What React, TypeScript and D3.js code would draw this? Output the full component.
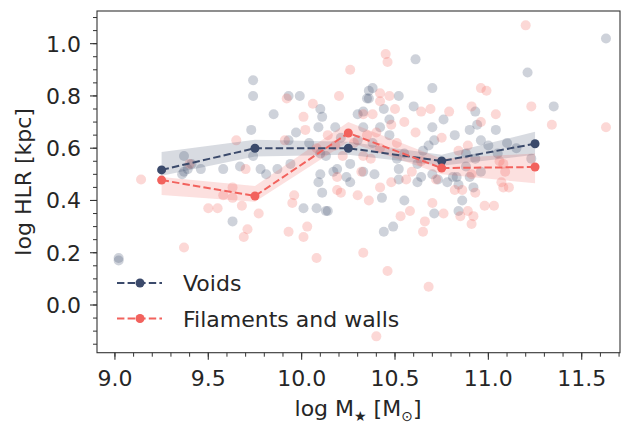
import React from "react";
import * as d3 from "d3";

// ---- data ----
const voidMass = [9.74, 9.74, 9.93, 9.99, 9.85, 10.10, 10.11, 10.09, 9.97, 9.73, 10.18, 10.30, 10.35, 10.36, 9.93, 10.04, 10.10, 10.13, 9.37, 9.46, 9.37, 9.58, 9.67, 9.78, 9.81, 9.87, 9.94, 10.10, 10.19, 10.26, 10.33, 11.63, 10.61, 11.21, 10.70, 10.38, 10.36, 10.52, 10.60, 10.44, 10.33, 10.93, 11.35, 10.76, 10.47, 10.42, 10.94, 10.90, 11.04, 10.70, 10.33, 10.82, 10.47, 10.71, 10.68, 10.65, 10.96, 11.00, 10.38, 10.88, 10.51, 10.93, 11.23, 10.39, 10.52, 10.88, 10.96, 10.81, 10.24, 10.26, 10.43, 10.52, 10.55, 10.62, 10.64, 10.71, 10.49, 10.44, 10.70, 10.73, 10.78, 10.83, 10.84, 10.86, 10.92, 10.90, 10.84, 9.41, 9.74, 9.63, 9.02, 9.02, 10.01, 10.09, 10.11, 10.08, 10.13, 10.14, 10.17, 9.36, 9.39, 10.21, 10.30, 10.55, 10.62, 11.05, 11.10, 11.15];
const voidHLR = [0.86, 0.80, 0.80, 0.80, 0.73, 0.75, 0.72, 0.68, 0.66, 0.67, 0.68, 0.73, 0.79, 0.82, 0.63, 0.62, 0.58, 0.57, 0.57, 0.52, 0.51, 0.52, 0.53, 0.52, 0.50, 0.52, 0.54, 0.50, 0.52, 0.54, 0.51, 1.02, 0.94, 0.89, 0.83, 0.83, 0.79, 0.80, 0.76, 0.75, 0.74, 0.74, 0.76, 0.71, 0.71, 0.68, 0.69, 0.67, 0.67, 0.68, 0.68, 0.65, 0.65, 0.63, 0.61, 0.59, 0.63, 0.61, 0.62, 0.58, 0.56, 0.56, 0.56, 0.50, 0.52, 0.53, 0.51, 0.49, 0.49, 0.47, 0.41, 0.48, 0.40, 0.47, 0.49, 0.35, 0.30, 0.28, 0.50, 0.48, 0.47, 0.49, 0.46, 0.40, 0.45, 0.49, 0.36, 0.54, 0.57, 0.32, 0.17, 0.18, 0.37, 0.47, 0.43, 0.37, 0.36, 0.36, 0.51, 0.50, 0.52, 0.64, 0.63, 0.58, 0.54, 0.58, 0.62, 0.60];

const filMass = [10.26, 9.92, 10.20, 10.06, 10.01, 10.02, 9.65, 9.91, 10.14, 10.33, 9.40, 9.70, 9.14, 10.18, 11.20, 10.45, 10.46, 10.96, 10.99, 10.42, 10.47, 10.42, 10.69, 10.64, 10.50, 10.79, 10.38, 10.91, 11.04, 11.23, 11.34, 11.63, 10.55, 10.48, 10.96, 10.61, 10.75, 10.35, 10.40, 10.89, 10.51, 10.42, 10.84, 10.33, 10.37, 10.64, 11.06, 11.08, 10.32, 10.59, 10.91, 11.09, 10.21, 10.30, 10.36, 10.42, 10.48, 10.56, 10.58, 10.53, 10.70, 10.76, 10.66, 10.65, 10.33, 10.46, 10.68, 10.72, 10.82, 10.86, 10.93, 10.89, 10.92, 10.85, 10.91, 10.98, 11.03, 11.07, 11.08, 11.11, 9.58, 9.63, 9.63, 9.68, 9.50, 9.55, 9.77, 9.71, 9.69, 9.37, 9.93, 9.96, 9.95, 10.03, 10.01, 10.08, 10.19, 10.19, 10.40, 10.08, 10.22, 10.28];
const filHLR = [0.90, 0.79, 0.80, 0.77, 0.72, 0.67, 0.63, 0.63, 0.65, 0.73, 0.54, 0.52, 0.48, 0.61, 1.07, 0.96, 0.93, 0.83, 0.82, 0.81, 0.80, 0.78, 0.75, 0.74, 0.75, 0.74, 0.73, 0.76, 0.73, 0.76, 0.69, 0.68, 0.70, 0.69, 0.70, 0.66, 0.64, 0.65, 0.66, 0.61, 0.62, 0.60, 0.59, 0.57, 0.56, 0.55, 0.55, 0.54, 0.51, 0.51, 0.50, 0.51, 0.43, 0.42, 0.40, 0.45, 0.47, 0.48, 0.36, 0.34, 0.39, 0.35, 0.32, 0.28, 0.20, 0.13, 0.07, 0.48, 0.44, 0.44, 0.43, 0.36, 0.34, 0.34, 0.31, 0.38, 0.38, 0.47, 0.45, 0.45, 0.42, 0.41, 0.45, 0.38, 0.37, 0.37, 0.35, 0.29, 0.26, 0.22, 0.28, 0.42, 0.39, 0.30, 0.26, 0.18, 0.49, 0.44, -0.12, 0.60, 0.57, 0.62];

const binCenters = [9.25, 9.75, 10.25, 10.75, 11.25];
const voidMedian = [0.517, 0.60, 0.60, 0.551, 0.617];
const voidLow = [0.495, 0.568, 0.575, 0.533, 0.575];
const voidHigh = [0.585, 0.632, 0.625, 0.575, 0.663];
const filMedian = [0.478, 0.417, 0.658, 0.524, 0.528];
const filLow = [0.421, 0.395, 0.625, 0.50, 0.466];
const filHigh = [0.490, 0.455, 0.700, 0.56, 0.58];

const xTicks = [9.0, 9.5, 10.0, 10.5, 11.0, 11.5];
const yTicks = [0.0, 0.2, 0.4, 0.6, 0.8, 1.0];
const legendLabels = ["Voids", "Filaments and walls"];

const VOID_COLOR = "#3B4A6B";
const FIL_COLOR = "#F2625D";

export default function App() {
  const W = 622, H = 423;
  const left = 97, right = 620, top = 11, bottom = 352.7;
  const x = d3.scaleLinear().domain([8.904, 11.705]).range([left, right]);
  const y = d3.scaleLinear().domain([-0.1825, 1.125]).range([bottom, top]);
  const font = "DejaVu Sans, sans-serif";
  const fs = 22;

  const xMinor = d3.range(9.0, 11.71, 0.1).filter(v => x(v) <= right + 0.5);
  const yMinor = d3.range(-0.15, 1.11, 0.05).filter(v => y(v) >= top - 0.5);

  const idx = binCenters.map((_, i) => i);
  const area = (lo: number[], hi: number[]) =>
    d3.area<number>().x(i => x(binCenters[i])).y0(i => y(lo[i])).y1(i => y(hi[i]))(idx) || "";
  const line = (m: number[]) =>
    d3.line<number>().x(i => x(binCenters[i])).y(i => y(m[i]))(idx) || "";

  const fmt = d3.format(".1f");

  return (
    <svg width={W} height={H} style={{ position: "absolute", left: 0, top: 0, background: "#fff" }}
      fontFamily={font}>
      <rect x={0} y={0} width={W} height={H} fill="#fff" />
      {/* scatter */}
      {voidMass.map((m, i) => (
        <circle key={"v" + i} cx={x(m)} cy={y(voidHLR[i])} r={5} fill={VOID_COLOR} fillOpacity={0.25} />
      ))}
      {filMass.map((m, i) => (
        <circle key={"f" + i} cx={x(m)} cy={y(filHLR[i])} r={5} fill={FIL_COLOR} fillOpacity={0.25} />
      ))}
      {/* bands */}
      <path d={area(voidLow, voidHigh)} fill={VOID_COLOR} fillOpacity={0.2} />
      <path d={area(filLow, filHigh)} fill={FIL_COLOR} fillOpacity={0.2} />
      {/* lines */}
      <path d={line(voidMedian)} fill="none" stroke={VOID_COLOR} strokeWidth={2} strokeDasharray="7.4 3.2" />
      {binCenters.map((b, i) => (
        <circle key={"vm" + i} cx={x(b)} cy={y(voidMedian[i])} r={4.5} fill={VOID_COLOR} />
      ))}
      <path d={line(filMedian)} fill="none" stroke={FIL_COLOR} strokeWidth={2} strokeDasharray="7.4 3.2" />
      {binCenters.map((b, i) => (
        <circle key={"fm" + i} cx={x(b)} cy={y(filMedian[i])} r={4.5} fill={FIL_COLOR} />
      ))}
      {/* frame */}
      <rect x={left} y={top} width={right - left} height={bottom - top} fill="none" stroke="#333" strokeWidth={1.1} />
      {/* x ticks */}
      {xMinor.map((v, i) => (
        <line key={"xm" + i} x1={x(v)} x2={x(v)} y1={bottom} y2={bottom + 4} stroke="#333" strokeWidth={1} />
      ))}
      {xTicks.map((v, i) => (
        <g key={"xt" + i}>
          <line x1={x(v)} x2={x(v)} y1={bottom} y2={bottom + 7} stroke="#333" strokeWidth={1.1} />
          <text x={x(v)} y={386} textAnchor="middle" fontSize={fs} fill="#262626">{fmt(v)}</text>
        </g>
      ))}
      {/* y ticks */}
      {yMinor.map((v, i) => (
        <line key={"ym" + i} x1={left - 4} x2={left} y1={y(v)} y2={y(v)} stroke="#333" strokeWidth={1} />
      ))}
      {yTicks.map((v, i) => (
        <g key={"yt" + i}>
          <line x1={left - 7} x2={left} y1={y(v)} y2={y(v)} stroke="#333" strokeWidth={1.1} />
          <text x={81} y={y(v) + 8} textAnchor="end" fontSize={fs} fill="#262626">{fmt(v)}</text>
        </g>
      ))}
      {/* axis labels */}
      <text x={358} y={416} textAnchor="middle" fontSize={fs} fill="#262626">
        log M<tspan fontSize={14} dy={5}>★</tspan><tspan dy={-5}> [M</tspan><tspan fontSize={14} dy={5}>⊙</tspan><tspan dy={-5}>]</tspan>
      </text>
      <text transform={`translate(31,${(top + bottom) / 2}) rotate(-90)`} textAnchor="middle" fontSize={fs} fill="#262626">
        log HLR [kpc]
      </text>
      {/* legend */}
      {legendLabels.map((lab, i) => {
        const ly = 283 + i * 35.5;
        const c = i === 0 ? VOID_COLOR : FIL_COLOR;
        return (
          <g key={"lg" + i}>
            <line x1={117} x2={162} y1={ly} y2={ly} stroke={c} strokeWidth={2} strokeDasharray="7.4 3.2" />
            <circle cx={140} cy={ly} r={4.5} fill={c} />
            <text x={183} y={ly + 8} fontSize={fs} fill="#262626">{lab}</text>
          </g>
        );
      })}
    </svg>
  );
}
